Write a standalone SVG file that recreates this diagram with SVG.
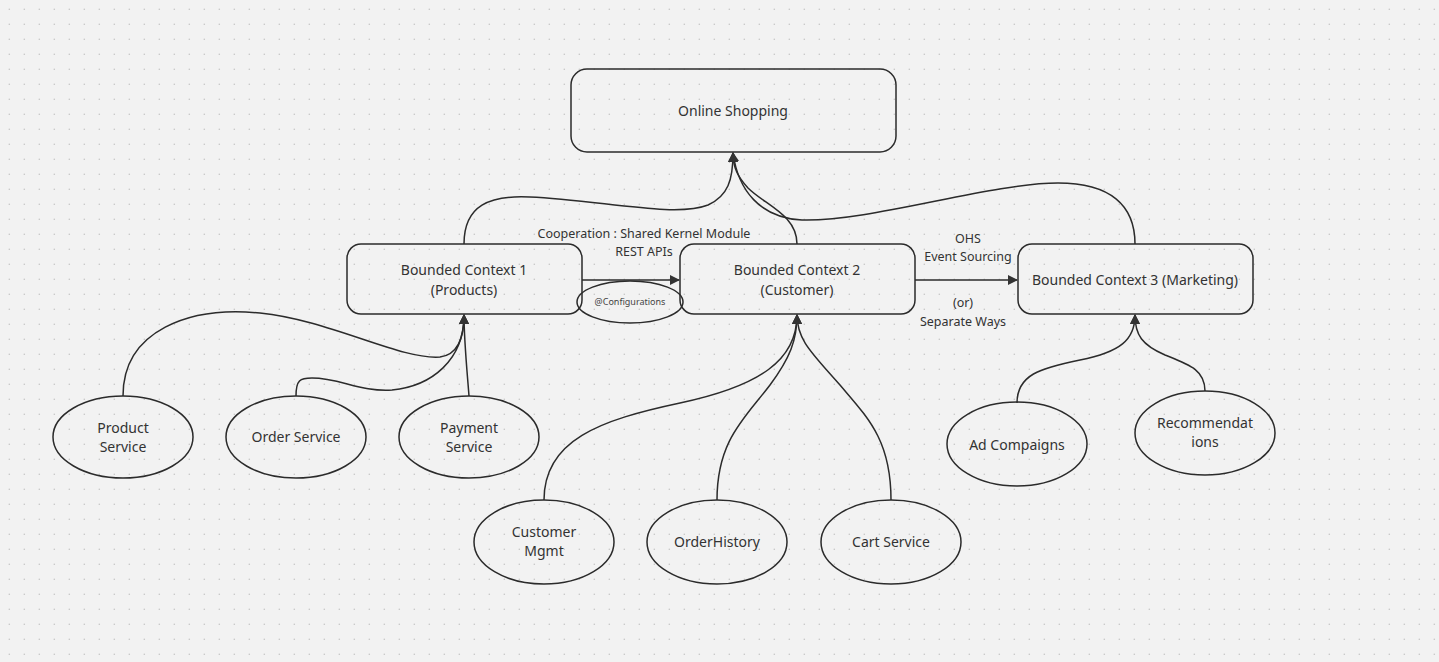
<svg xmlns="http://www.w3.org/2000/svg" width="1439" height="662" viewBox="0 0 1439 662">
<defs>
<pattern id="grid" x="0" y="0" width="15" height="15" patternUnits="userSpaceOnUse">
<circle cx="9.3" cy="9.3" r="0.8" fill="#c4c4c4"/>
</pattern>
<marker id="arr" viewBox="0 0 10 10" refX="9" refY="5" markerWidth="10" markerHeight="10" markerUnits="userSpaceOnUse" orient="auto">
<path d="M0,0 L10,5 L0,10 Z" fill="#333"/>
</marker>
<style>
.box{fill:none;stroke:#2b2b2b;stroke-width:1.5}
.t{font-family:"Noto Sans","Open Sans","Liberation Sans",sans-serif;font-size:14px;fill:#333;text-anchor:middle}
.l{font-family:"Noto Sans","Open Sans","Liberation Sans",sans-serif;font-size:12.5px;fill:#333;text-anchor:middle}
.s{font-family:"Noto Sans","Open Sans","Liberation Sans",sans-serif;font-size:9px;fill:#444;text-anchor:middle}
.c{fill:none;stroke:#2b2b2b;stroke-width:1.5}
</style>
</defs>
<rect width="1439" height="662" fill="#f2f2f2"/>
<rect width="1439" height="662" fill="url(#grid)"/>

<g id="connectors">
<path class="c" d="M464,244 C464,205 490,195 530,197 C600,200 675,218 708,205 C728,196 733,180 733,153" marker-end="url(#arr)"/>
<path class="c" d="M797,244 C797,215 765,205 748,188 C738,177 733,168 733,153" marker-end="url(#arr)"/>
<path class="c" d="M1135,244 C1135,205 1110,183 1058,183 C990,183 870,222 802,220 C760,218 738,190 733,153" marker-end="url(#arr)"/>
<path class="c" d="M582,280 L679,280" marker-end="url(#arr)"/>
<path class="c" d="M915,280 L1017,280" marker-end="url(#arr)"/>
<path class="c" d="M123,396 C123,330 190,306 260,313 C330,320 400,360 440,357 C456,355 464,340 464,315" marker-end="url(#arr)"/>
<path class="c" d="M296,396 C296,380 300,378 312,378 C340,378 360,392 392,390 C432,386 464,360 464,315" marker-end="url(#arr)"/>
<path class="c" d="M469,396 C467,370 464,340 464,315" marker-end="url(#arr)"/>
<path class="c" d="M544,500 C544,440 600,420 680,403 C760,386 797,360 797,315" marker-end="url(#arr)"/>
<path class="c" d="M717,500 C717,440 745,418 770,385 C790,358 797,340 797,315" marker-end="url(#arr)"/>
<path class="c" d="M891,500 C891,440 868,418 840,385 C812,353 797,340 797,315" marker-end="url(#arr)"/>
<path class="c" d="M1017,403 C1017,375 1040,368 1080,360 C1120,352 1135,340 1135,315" marker-end="url(#arr)"/>
<path class="c" d="M1205,391 C1205,370 1190,365 1165,355 C1142,345 1135,335 1135,315" marker-end="url(#arr)"/>
</g>

<g id="labels">
<text class="l" x="644" y="238">Cooperation : Shared Kernel Module</text>
<text class="l" x="644" y="256">REST APIs</text>
<text class="l" x="968" y="243">OHS</text>
<text class="l" x="968" y="261">Event Sourcing</text>
<text class="l" x="963" y="307">(or)</text>
<text class="l" x="963" y="326">Separate Ways</text>
</g>

<g id="online-shopping">
<rect class="box" x="571" y="69" width="325" height="83" rx="16"/>
<text class="t" x="733" y="116">Online Shopping</text>
</g>
<g id="bc1">
<rect class="box" x="347" y="244" width="235" height="70" rx="14"/>
<text class="t" x="464" y="275">Bounded Context 1</text>
<text class="t" x="464" y="295">(Products)</text>
</g>
<g id="bc2">
<rect class="box" x="680" y="244" width="235" height="70" rx="14"/>
<text class="t" x="797" y="275">Bounded Context 2</text>
<text class="t" x="797" y="295">(Customer)</text>
</g>
<g id="bc3">
<rect class="box" x="1018" y="244" width="235" height="70" rx="14"/>
<text class="t" x="1135" y="285">Bounded Context 3 (Marketing)</text>
</g>
<g id="configurations">
<ellipse class="box" cx="630" cy="302" rx="53" ry="21"/>
<text class="s" x="630" y="305">@Configurations</text>
</g>
<g id="product-service">
<ellipse class="box" cx="123" cy="437" rx="70" ry="41"/>
<text class="t" x="123" y="433">Product</text>
<text class="t" x="123" y="452">Service</text>
</g>
<g id="order-service">
<ellipse class="box" cx="296" cy="437" rx="70" ry="41"/>
<text class="t" x="296" y="442">Order Service</text>
</g>
<g id="payment-service">
<ellipse class="box" cx="469" cy="437" rx="70" ry="41"/>
<text class="t" x="469" y="433">Payment</text>
<text class="t" x="469" y="452">Service</text>
</g>
<g id="customer-mgmt">
<ellipse class="box" cx="544" cy="542" rx="70" ry="42"/>
<text class="t" x="544" y="537">Customer</text>
<text class="t" x="544" y="556">Mgmt</text>
</g>
<g id="order-history">
<ellipse class="box" cx="717" cy="542" rx="70" ry="42"/>
<text class="t" x="717" y="547">OrderHistory</text>
</g>
<g id="cart-service">
<ellipse class="box" cx="891" cy="542" rx="70" ry="42"/>
<text class="t" x="891" y="547">Cart Service</text>
</g>
<g id="ad-compaigns">
<ellipse class="box" cx="1017" cy="444" rx="70" ry="42"/>
<text class="t" x="1017" y="450">Ad Compaigns</text>
</g>
<g id="recommendations">
<ellipse class="box" cx="1205" cy="433" rx="70" ry="42"/>
<text class="t" x="1205" y="428">Recommendat</text>
<text class="t" x="1205" y="447">ions</text>
</g>
</svg>
